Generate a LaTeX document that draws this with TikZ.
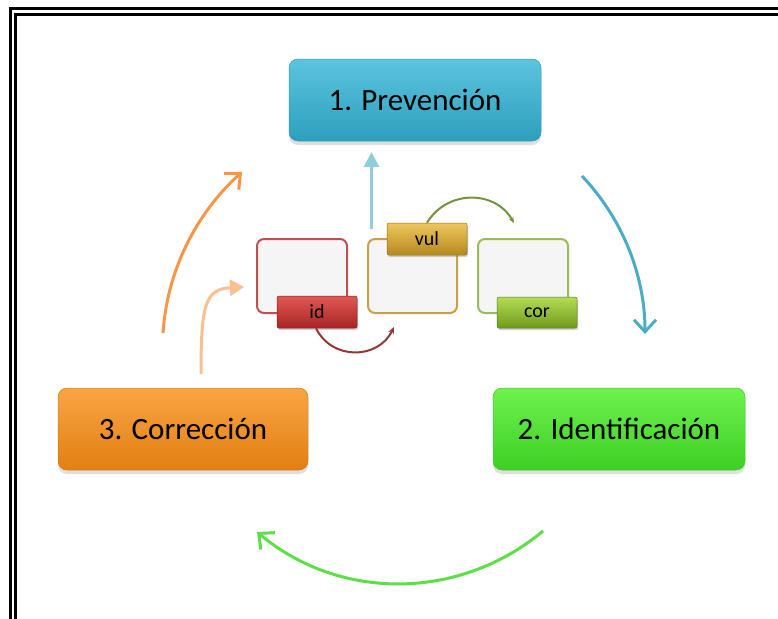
\documentclass[tikz,border=0pt]{standalone}
\usepackage{fontspec}
\setmainfont{Carlito}
\usetikzlibrary{arrows.meta,shadows}
\definecolor{prevM}{HTML}{36B3D2}
\definecolor{prevT}{HTML}{5CC4DE}
\definecolor{prevB}{HTML}{2C9FBD}
\definecolor{identM}{HTML}{4EEC32}
\definecolor{identT}{HTML}{6EF24F}
\definecolor{identB}{HTML}{3DCF24}
\definecolor{corrM}{HTML}{F7931E}
\definecolor{corrT}{HTML}{F9A544}
\definecolor{corrB}{HTML}{E27F12}
\definecolor{boxfill}{HTML}{F5F5F5}
\definecolor{redline}{HTML}{C0504D}
\definecolor{goldline}{HTML}{C9A047}
\definecolor{greenline}{HTML}{9BBB59}
\definecolor{redT}{HTML}{E05A55}
\definecolor{redM}{HTML}{CC3333}
\definecolor{redB}{HTML}{A82424}
\definecolor{goldT}{HTML}{EEC75C}
\definecolor{goldM}{HTML}{D9A834}
\definecolor{goldB}{HTML}{B58820}
\definecolor{grnT}{HTML}{B5DC55}
\definecolor{grnM}{HTML}{95C232}
\definecolor{grnB}{HTML}{6E9A1C}
\definecolor{arrBlue}{HTML}{4BACC6}
\definecolor{arrOrange}{HTML}{F79646}
\definecolor{arrGreen}{HTML}{5EDF48}
\definecolor{arrLBlue}{HTML}{92CDDC}
\definecolor{arrLOrange}{HTML}{FAC090}
\definecolor{arrRed}{HTML}{953735}
\definecolor{arrOlive}{HTML}{77933C}
\begin{document}
\begin{tikzpicture}[x=1pt,y=-1pt,
  bigbox/.style n args={3}{rounded corners=9pt, minimum width=252pt, minimum height=82pt,
    inner sep=0pt, font=\fontsize{31}{36}\selectfont, draw=#2!85!black, line width=0.5pt,
    top color=#1, middle color=#2, bottom color=#3,
    drop shadow={opacity=0.25, shadow xshift=0pt, shadow yshift=-4pt}},
  smallbox/.style={draw=#1, line width=2pt, fill=boxfill, rounded corners=7pt,
    minimum width=90pt, minimum height=74pt, inner sep=0pt},
  lab/.style n args={3}{rounded corners=2pt, minimum width=80pt, minimum height=32pt,
    inner sep=0pt, font=\fontsize{20}{22}\selectfont, draw=#3!80!black, line width=0.5pt,
    top color=#1, middle color=#2, bottom color=#3,
    drop shadow={opacity=0.35, shadow xshift=1pt, shadow yshift=-2pt}},
  bigarrow/.style={draw=#1, line width=3pt, -{Straight Barb[length=12pt,width=22pt,line width=3pt]}},
]
\useasboundingbox (0,0) rectangle (778,618);
\clip (0,0) rectangle (778,618);
\fill[white] (0,0) rectangle (778,618);
% frame
\draw[line width=2.5pt] (10.3,8.7) rectangle (900,700);
\draw[line width=3pt] (15.7,14.2) rectangle (900,700);

% big boxes
\node[bigbox={prevT}{prevM}{prevB}] (prev) at (415,100) {1. Prevención};
\node[bigbox={identT}{identM}{identB}] (ident) at (619,429) {2. Identificación};
\node[bigbox={corrT}{corrM}{corrB}, minimum width=250pt] (corr) at (183,429) {3. Corrección};

% small boxes
\node[smallbox=redline] (bred) at (302,276) {};
\node[smallbox=goldline, minimum width=89pt] (bgold) at (412.5,276) {};
\node[smallbox=greenline] (bgreen) at (523,276) {};

% big cycle arrows
\coordinate (bA) at (582,176);
\coordinate (bB) at (645,334);
\draw[bigarrow=arrBlue] (bA) .. controls +(40.4,42.7) and +(0,-58.8) .. (bB);
\coordinate (gA) at (543,531);
\coordinate (gB) at (257,532);
\draw[bigarrow=arrGreen] (gA) .. controls +(-83,69.5) and +(83,69.5) .. (gB);
\coordinate (oA) at (163,333);
\coordinate (oB) at (242,172);
\draw[bigarrow=arrOrange] (oA) .. controls +(4,-62) and +(-46,41.5) .. (oB);

% small arrows
\coordinate (lbA) at (371.5,229);
\coordinate (lbB) at (371.5,152);
\draw[arrLBlue, line width=3pt, -{Triangle[length=15pt,width=15pt]}] (lbA) -- (lbB);
\coordinate (loA) at (201,374);
\coordinate (loB) at (244,287);
\draw[arrLOrange, line width=3pt, -{Triangle[length=14pt,width=16pt]}] (loA) .. controls (201,305) and (205,289) .. (loB);

% labels
\node[lab={redT}{redM}{redB}] (id) at (317,312) {id};
\node[lab={goldT}{goldM}{goldB}] (vul) at (427,239) {vul};
\node[lab={grnT}{grnM}{grnB}, minimum height=31pt] (cor) at (537,312.5) {cor};

% label arcs
\coordinate (rE) at (394,327);
\draw[arrRed, line width=2pt, -{Stealth[length=7pt,width=6pt]}] (id.south) ++(-1,0) coordinate (rS) .. controls (332,360.6) and (378,359.6) .. (rE);
\coordinate (olE) at (514,223);
\draw[arrOlive, line width=2pt, -{Stealth[length=6pt,width=5pt]}] (vul.north) ++(0,0) coordinate (olS) .. controls (447,189.7) and (495,189.7) .. (olE);
\end{tikzpicture}
\end{document}
